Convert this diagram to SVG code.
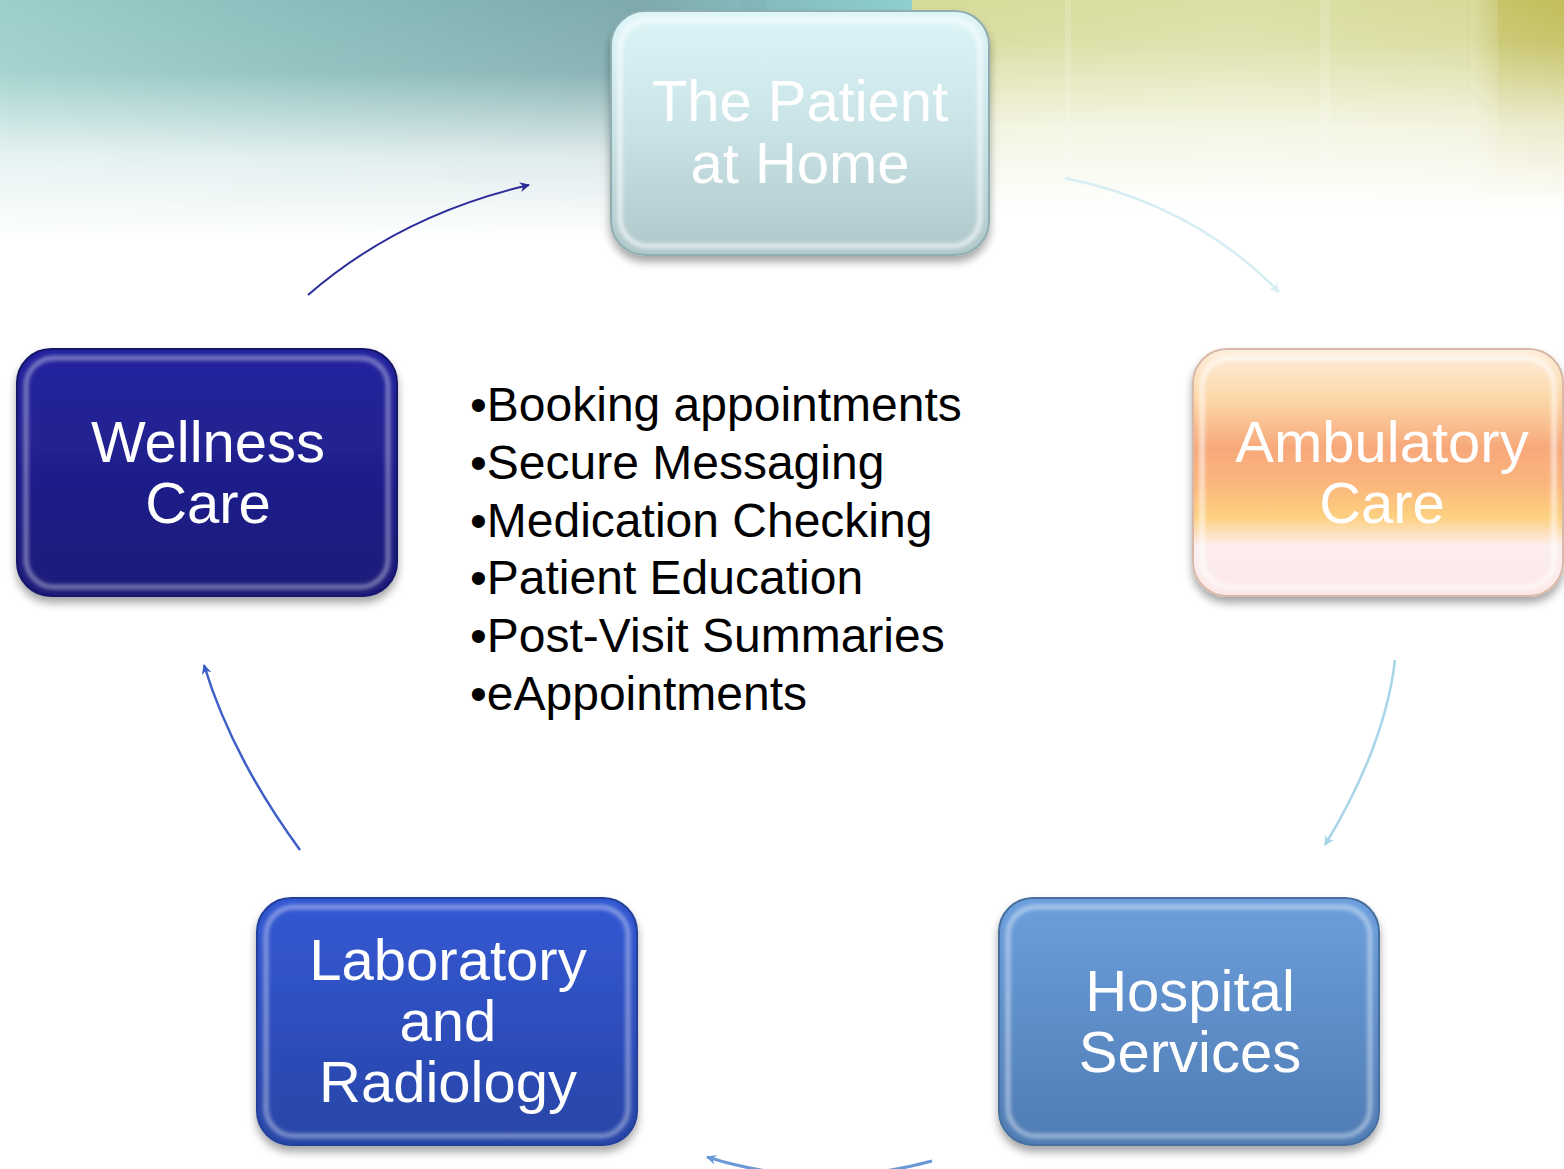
<svg xmlns="http://www.w3.org/2000/svg" width="1564" height="1169" viewBox="0 0 1564 1169">
  <style>
    .lbl { font-family: "Liberation Sans", Arial, sans-serif; font-size: 58px; fill: #ffffff; text-anchor: middle; }
    .lst { font-family: "Liberation Sans", Arial, sans-serif; font-size: 48px; fill: #000000; }
    .bevel { fill: none; stroke: #ffffff; stroke-width: 4; filter: url(#soft); }
    .conn { fill: none; }
  </style>
  <defs>
    <linearGradient id="bgLeftH" x1="0" y1="0" x2="1" y2="0">
      <stop offset="0" stop-color="#9ccfcb"/>
      <stop offset="0.35" stop-color="#88bdbb"/>
      <stop offset="0.7" stop-color="#7eaaad"/>
      <stop offset="1" stop-color="#8ecfd0"/>
    </linearGradient>
    <linearGradient id="bgLeftFade" x1="0" y1="0" x2="0" y2="1">
      <stop offset="0" stop-color="#ffffff" stop-opacity="0"/>
      <stop offset="0.3" stop-color="#ffffff" stop-opacity="0.1"/>
      <stop offset="0.65" stop-color="#ffffff" stop-opacity="0.75"/>
      <stop offset="1" stop-color="#ffffff" stop-opacity="1"/>
    </linearGradient>
    <linearGradient id="bgRightH" x1="0" y1="0" x2="1" y2="0">
      <stop offset="0" stop-color="#d6da98"/>
      <stop offset="0.5" stop-color="#dce0a6"/>
      <stop offset="0.85" stop-color="#d8da9a"/>
      <stop offset="0.9" stop-color="#c6c468"/>
      <stop offset="1" stop-color="#c2be5c"/>
    </linearGradient>
    <linearGradient id="bgRightFade" x1="0" y1="0" x2="0" y2="1">
      <stop offset="0" stop-color="#ffffff" stop-opacity="0"/>
      <stop offset="0.2" stop-color="#ffffff" stop-opacity="0.1"/>
      <stop offset="0.6" stop-color="#ffffff" stop-opacity="0.7"/>
      <stop offset="1" stop-color="#ffffff" stop-opacity="1"/>
    </linearGradient>
    <linearGradient id="gTop" x1="0" y1="0" x2="0" y2="1">
      <stop offset="0" stop-color="#dff6f9"/>
      <stop offset="0.5" stop-color="#c8e2e5"/>
      <stop offset="1" stop-color="#afc7ca"/>
    </linearGradient>
    <linearGradient id="gAmb" x1="0" y1="0" x2="0" y2="1">
      <stop offset="0" stop-color="#fdeedd"/>
      <stop offset="0.2" stop-color="#fcd8a8"/>
      <stop offset="0.4" stop-color="#f7a87a"/>
      <stop offset="0.55" stop-color="#fbb67c"/>
      <stop offset="0.68" stop-color="#fdd080"/>
      <stop offset="0.8" stop-color="#fdeef0"/>
      <stop offset="1" stop-color="#fbe8e6"/>
    </linearGradient>
    <linearGradient id="gWel" x1="0" y1="0" x2="0" y2="1">
      <stop offset="0" stop-color="#2424a0"/>
      <stop offset="1" stop-color="#1a1a78"/>
    </linearGradient>
    <linearGradient id="gLab" x1="0" y1="0" x2="0" y2="1">
      <stop offset="0" stop-color="#3358d4"/>
      <stop offset="1" stop-color="#2845a6"/>
    </linearGradient>
    <linearGradient id="gHos" x1="0" y1="0" x2="0" y2="1">
      <stop offset="0" stop-color="#6c9fdd"/>
      <stop offset="1" stop-color="#4f7bb3"/>
    </linearGradient>
    <filter id="sh" x="-10%" y="-10%" width="120%" height="130%">
      <feDropShadow dx="0" dy="6" stdDeviation="4" flood-color="#000000" flood-opacity="0.35"/>
    </filter>
    <filter id="soft" x="-5%" y="-5%" width="110%" height="110%">
      <feGaussianBlur stdDeviation="2"/>
    </filter>
    <marker id="aNavy" markerWidth="12" markerHeight="12" refX="9" refY="5" orient="auto" markerUnits="userSpaceOnUse">
      <path d="M0,0 L10,5 L0,10 L3,5 Z" fill="#2b2b9c"/>
    </marker>
    <marker id="aPale" markerWidth="12" markerHeight="12" refX="9" refY="5" orient="auto" markerUnits="userSpaceOnUse">
      <path d="M0,0 L10,5 L0,10 L3,5 Z" fill="#d6edf4"/>
    </marker>
    <marker id="aLight" markerWidth="12" markerHeight="12" refX="9" refY="5" orient="auto" markerUnits="userSpaceOnUse">
      <path d="M0,0 L10,5 L0,10 L3,5 Z" fill="#a9d5e8"/>
    </marker>
    <marker id="aMid" markerWidth="12" markerHeight="12" refX="9" refY="5" orient="auto" markerUnits="userSpaceOnUse">
      <path d="M0,0 L10,5 L0,10 L3,5 Z" fill="#6a98d6"/>
    </marker>
    <marker id="aBlue" markerWidth="12" markerHeight="12" refX="9" refY="5" orient="auto" markerUnits="userSpaceOnUse">
      <path d="M0,0 L10,5 L0,10 L3,5 Z" fill="#3e5fc8"/>
    </marker>
  </defs>

  <rect x="0" y="0" width="1564" height="1169" fill="#ffffff"/>

  <g id="background">
    <rect x="0" y="0" width="912" height="240" fill="url(#bgLeftH)"/>
    <rect x="0" y="0" width="912" height="240" fill="url(#bgLeftFade)"/>
    <rect x="912" y="0" width="652" height="210" fill="url(#bgRightH)"/>
    <rect x="912" y="0" width="652" height="210" fill="url(#bgRightFade)"/>
    <rect x="740" y="0" width="25" height="30" fill="#7fb4b8" opacity="0.5"/>
    <rect x="1065" y="0" width="6" height="160" fill="#ffffff" opacity="0.15"/>
    <rect x="1320" y="0" width="10" height="170" fill="#ffffff" opacity="0.15"/>
    <rect x="1470" y="0" width="28" height="180" fill="#ffffff" opacity="0.12"/>
  </g>

  <g id="connectors">
    <path class="conn" d="M308,295 Q400,215 529,185" stroke="#2b2b9c" stroke-width="2" marker-end="url(#aNavy)"/>
    <path class="conn" d="M1065,178 Q1195,205 1279,292" stroke="#d6edf4" stroke-width="2.5" marker-end="url(#aPale)"/>
    <path class="conn" d="M1395,660 Q1385,746 1325,845" stroke="#a9d5e8" stroke-width="2.5" marker-end="url(#aLight)"/>
    <path class="conn" d="M932,1161 Q818,1192 707,1157" stroke="#6a98d6" stroke-width="3" marker-end="url(#aMid)"/>
    <path class="conn" d="M300,850 Q232,757 204,665" stroke="#3e5fc8" stroke-width="2.5" marker-end="url(#aBlue)"/>
  </g>

  <g id="node-patient-home">
    <rect x="611" y="11" width="378" height="244" rx="34" fill="url(#gTop)" stroke="#8faeb2" stroke-width="2" filter="url(#sh)"/>
    <rect class="bevel" x="620" y="20" width="360" height="226" rx="28" stroke-opacity="0.8"/>
    <text class="lbl" x="800" y="121" textLength="296" lengthAdjust="spacing">The Patient</text>
    <text class="lbl" x="800" y="183">at Home</text>
  </g>

  <g id="node-ambulatory">
    <rect x="1193" y="349" width="370" height="247" rx="34" fill="url(#gAmb)" stroke="#d8b8a8" stroke-width="2" filter="url(#sh)"/>
    <rect class="bevel" x="1202" y="358" width="352" height="229" rx="28" stroke-opacity="0.8"/>
    <text class="lbl" x="1382" y="462">Ambulatory</text>
    <text class="lbl" x="1382" y="523">Care</text>
  </g>

  <g id="node-wellness">
    <rect x="17" y="349" width="380" height="247" rx="34" fill="url(#gWel)" stroke="#15156a" stroke-width="2" filter="url(#sh)"/>
    <rect class="bevel" x="26" y="358" width="362" height="229" rx="28" stroke="#7070f0" stroke-opacity="0.5"/>
    <text class="lbl" x="208" y="462">Wellness</text>
    <text class="lbl" x="208" y="523">Care</text>
  </g>

  <g id="node-lab">
    <rect x="257" y="898" width="380" height="247" rx="34" fill="url(#gLab)" stroke="#22409a" stroke-width="2" filter="url(#sh)"/>
    <rect class="bevel" x="266" y="907" width="362" height="229" rx="28" stroke="#7aa0ff" stroke-opacity="0.5"/>
    <text class="lbl" x="448" y="980">Laboratory</text>
    <text class="lbl" x="448" y="1041">and</text>
    <text class="lbl" x="448" y="1102">Radiology</text>
  </g>

  <g id="node-hospital">
    <rect x="999" y="898" width="380" height="247" rx="34" fill="url(#gHos)" stroke="#46709f" stroke-width="2" filter="url(#sh)"/>
    <rect class="bevel" x="1008" y="907" width="362" height="229" rx="28" stroke="#b8e0ff" stroke-opacity="0.55"/>
    <text class="lbl" x="1190" y="1011">Hospital</text>
    <text class="lbl" x="1190" y="1072">Services</text>
  </g>

  <g id="feature-list">
    <text class="lst" x="470" y="421">•Booking appointments</text>
    <text class="lst" x="470" y="479">•Secure Messaging</text>
    <text class="lst" x="470" y="537">•Medication Checking</text>
    <text class="lst" x="470" y="594">•Patient Education</text>
    <text class="lst" x="470" y="652">•Post-Visit Summaries</text>
    <text class="lst" x="470" y="710">•eAppointments</text>
  </g>
</svg>
